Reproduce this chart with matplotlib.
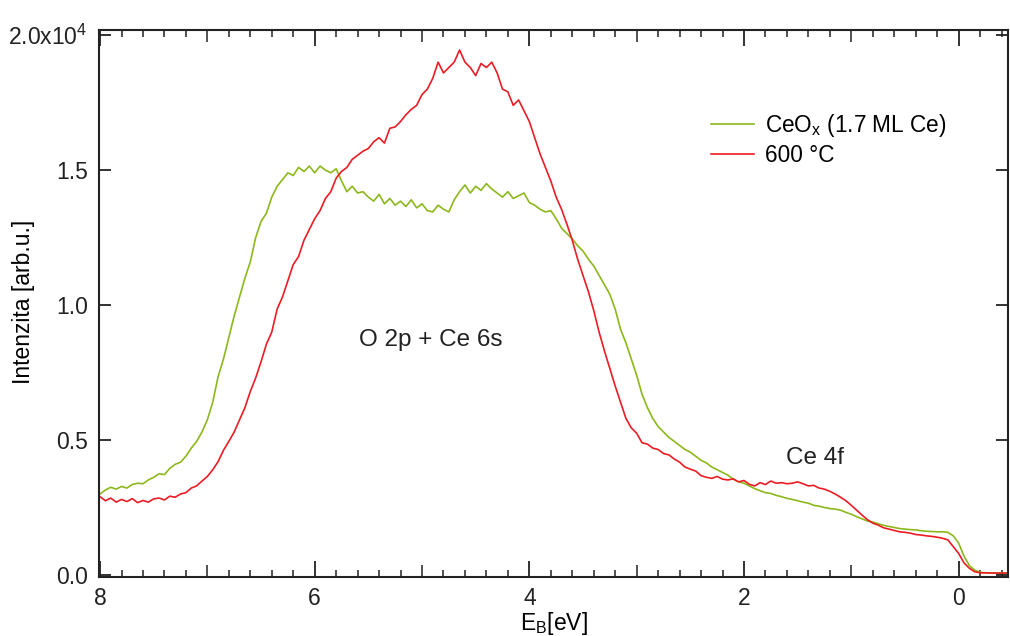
import numpy as np
import matplotlib
matplotlib.use("Agg")
import matplotlib.pyplot as plt
from matplotlib.ticker import MultipleLocator, FuncFormatter

plt.rcParams["font.family"] = ["Liberation Sans", "DejaVu Sans"]
plt.rcParams["mathtext.fontset"] = "custom"
plt.rcParams["mathtext.rm"] = "Liberation Sans"
plt.rcParams["mathtext.it"] = "Liberation Sans"

# Spettri di valenza, intensita in unita di 1e4, passo 0.05 eV da 8.00 eV
E_START = 8.0
E_STEP = 0.05

ceox = [
    0.300, 0.315, 0.325, 0.318, 0.328, 0.322, 0.335, 0.340, 0.338, 0.352,
    0.362, 0.375, 0.372, 0.395, 0.410, 0.418, 0.440, 0.470, 0.495, 0.530,
    0.575, 0.640, 0.735, 0.800, 0.880, 0.960, 1.030, 1.100, 1.160, 1.250,
    1.310, 1.340, 1.400, 1.440, 1.465, 1.490, 1.480, 1.510, 1.495, 1.515,
    1.490, 1.515, 1.500, 1.490, 1.505, 1.460, 1.420, 1.440, 1.415, 1.420,
    1.400, 1.385, 1.410, 1.375, 1.395, 1.370, 1.385, 1.365, 1.390, 1.360,
    1.375, 1.350, 1.345, 1.370, 1.355, 1.345, 1.390, 1.420, 1.445, 1.415,
    1.440, 1.425, 1.450, 1.430, 1.415, 1.400, 1.420, 1.395, 1.405, 1.415,
    1.380, 1.370, 1.355, 1.345, 1.350, 1.320, 1.285, 1.265, 1.245, 1.220,
    1.200, 1.170, 1.145, 1.110, 1.075, 1.040, 0.985, 0.910, 0.860, 0.800,
    0.740, 0.670, 0.620, 0.580, 0.550, 0.530, 0.510, 0.495, 0.480, 0.465,
    0.455, 0.440, 0.425, 0.415, 0.400, 0.390, 0.380, 0.370, 0.355, 0.345,
    0.340, 0.330, 0.320, 0.312, 0.305, 0.302, 0.295, 0.290, 0.284, 0.280,
    0.275, 0.270, 0.266, 0.258, 0.255, 0.250, 0.246, 0.244, 0.240, 0.232,
    0.225, 0.216, 0.208, 0.200, 0.196, 0.190, 0.184, 0.180, 0.176, 0.172,
    0.170, 0.168, 0.167, 0.164, 0.162, 0.161, 0.160, 0.160, 0.158, 0.145,
    0.118, 0.070, 0.035, 0.018, 0.010, 0.008, 0.008, 0.007, 0.007, 0.007,
]

t600 = [
    0.290, 0.275, 0.285, 0.270, 0.280, 0.272, 0.283, 0.268, 0.276, 0.270,
    0.282, 0.285, 0.278, 0.292, 0.288, 0.300, 0.305, 0.322, 0.330, 0.348,
    0.365, 0.390, 0.420, 0.462, 0.495, 0.530, 0.575, 0.620, 0.680, 0.730,
    0.790, 0.855, 0.900, 0.985, 1.030, 1.090, 1.150, 1.180, 1.240, 1.280,
    1.320, 1.350, 1.395, 1.420, 1.470, 1.495, 1.510, 1.540, 1.555, 1.570,
    1.580, 1.605, 1.620, 1.600, 1.655, 1.660, 1.680, 1.705, 1.725, 1.740,
    1.780, 1.800, 1.840, 1.900, 1.860, 1.880, 1.900, 1.945, 1.900, 1.880,
    1.850, 1.895, 1.880, 1.900, 1.860, 1.800, 1.790, 1.740, 1.760, 1.720,
    1.680, 1.620, 1.560, 1.510, 1.460, 1.400, 1.355, 1.300, 1.240, 1.170,
    1.110, 1.050, 0.980, 0.900, 0.830, 0.765, 0.700, 0.640, 0.580, 0.545,
    0.525, 0.490, 0.485, 0.470, 0.465, 0.450, 0.445, 0.430, 0.418, 0.400,
    0.392, 0.385, 0.368, 0.362, 0.358, 0.365, 0.355, 0.352, 0.356, 0.345,
    0.350, 0.336, 0.330, 0.342, 0.335, 0.348, 0.340, 0.342, 0.338, 0.340,
    0.345, 0.338, 0.330, 0.332, 0.322, 0.318, 0.310, 0.300, 0.288, 0.275,
    0.258, 0.240, 0.222, 0.205, 0.192, 0.185, 0.175, 0.170, 0.165, 0.160,
    0.158, 0.155, 0.150, 0.148, 0.145, 0.143, 0.140, 0.136, 0.130, 0.105,
    0.080, 0.045, 0.025, 0.012, 0.008, 0.008, 0.007, 0.007, 0.007, 0.007,
]

labels = ["CeO$_\\mathrm{x}$ (1.7 ML Ce)", "600 \u00b0C"]
colors = ["#8cb81c", "#ec1c24"]


def energy_axis(values):
    return E_START - E_STEP * np.arange(len(values))


def y_label(v, pos):
    if abs(v - 2.0e4) < 1:
        return "2.0x10$^4$"
    return "%.1f" % (v / 1e4)


fig = plt.figure(figsize=(10.1, 6.36), dpi=100)
ax = fig.add_axes([0.098, 0.0928, 0.9, 0.86])

for vals, lab, col in zip([ceox, t600], labels, colors):
    ax.plot(energy_axis(vals), np.array(vals) * 1e4, color=col, lw=1.2,
            label=lab)

ax.set_xlim(8.01, -0.46)
ax.set_ylim(-0.0074e4, 2.019e4)

ax.xaxis.set_major_locator(MultipleLocator(2))
ax.xaxis.set_minor_locator(MultipleLocator(0.2))
ax.yaxis.set_major_locator(MultipleLocator(0.5e4))
ax.yaxis.set_major_formatter(FuncFormatter(y_label))

ax.tick_params(axis="both", which="both", direction="in", top=True,
               right=True, colors="#222222", labelsize=16.5)
ax.tick_params(axis="x", which="major", length=11.5, width=1.3, pad=7)
ax.tick_params(axis="x", which="minor", length=5, width=1.1)
ax.tick_params(axis="y", which="major", length=8.5, width=1.3, pad=8)
for s in ax.spines.values():
    s.set_linewidth(1.5)
    s.set_color("#222222")

# tacche intermedie piu lunghe ai valori interi dispari
fig.canvas.draw()
for loc, tick in zip(ax.xaxis.get_minorticklocs(), ax.xaxis.get_minor_ticks()):
    if abs(loc - round(loc)) < 1e-6:
        tick.tick1line.set_markersize(8.5)
        tick.tick2line.set_markersize(8.5)

ax.set_xlabel("E$_\\mathrm{B}$[eV]", fontsize=16.5, labelpad=0)
ax.set_ylabel("Intenzita [arb.u.]", fontsize=16.5)
ax.yaxis.set_label_coords(-0.070, 0.503)

ax.text(4.92, 0.87e4, "O 2p + Ce 6s", fontsize=17.5, ha="center",
        va="center", color="#222222")
ax.text(1.34, 0.433e4, "Ce 4f", fontsize=17.5, ha="center", va="center",
        color="#222222")

ax.legend(loc="center left", bbox_to_anchor=(0.663, 0.80), frameon=False,
          fontsize=16.3, handlelength=1.9, handletextpad=0.5,
          labelspacing=0.25, borderaxespad=0)

fig.savefig("out.png", dpi=100)
plt.close(fig)
